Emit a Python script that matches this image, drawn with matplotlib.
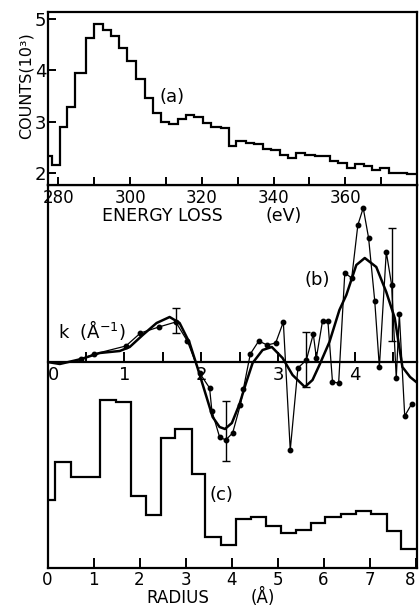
import matplotlib
matplotlib.use("Agg")
import matplotlib.pyplot as plt
import numpy as np

plt.rcParams["font.family"] = "DejaVu Sans"

# ---- (a) energy-loss histogram: bin edges (eV) and counts (10^3)
energy_edges = [277.0, 278.2, 280.4, 282.4, 284.6, 287.6, 289.9, 292.4, 294.6,
                296.9, 299.2, 301.6, 304.1, 306.5, 308.6, 310.9, 313.3, 315.6,
                317.9, 320.3, 322.6, 325.4, 327.5, 329.6, 332.4, 334.7, 337.1,
                339.4, 341.7, 344.1, 346.4, 348.7, 351.5, 355.7, 358.1, 360.4,
                362.7, 365.1, 367.4, 369.7, 372.1, 374.4, 377.2, 380.0]
counts = [2.33, 2.15, 2.89, 3.28, 3.94, 4.63, 4.90, 4.79, 4.67, 4.44, 4.19,
          3.83, 3.46, 3.17, 2.99, 2.95, 3.05, 3.13, 3.08, 2.97, 2.89, 2.88,
          2.53, 2.63, 2.59, 2.56, 2.46, 2.45, 2.35, 2.30, 2.38, 2.34, 2.32,
          2.24, 2.19, 2.09, 2.17, 2.13, 2.06, 2.09, 2.00, 2.00, 1.98]

# ---- (b) EXAFS chi(k): measured points, smooth fit, error bars
k_pts = [0.44, 0.61, 1.02, 1.21, 1.45, 1.67, 1.82, 1.98, 2.11, 2.14, 2.24,
         2.32, 2.41, 2.51, 2.55, 2.64, 2.75, 2.86, 2.97, 3.07, 3.16, 3.26,
         3.37, 3.46, 3.50, 3.58, 3.65, 3.71, 3.79, 3.87, 3.96, 4.04, 4.11,
         4.18, 4.26, 4.32, 4.41, 4.48, 4.54, 4.58, 4.65, 4.74]
chi_pts = [0.3, 0.8, 1.6, 2.9, 3.5, 4.0, 2.1, -1.1, -2.6, -4.9, -7.5,
           -7.8, -7.1, -4.3, -2.7, 0.8, 2.1, 1.7, 1.9, 4.0, -8.8, -0.6,
           0.2, 2.8, 0.4, 4.1, 4.1, -2.0, -2.1, 8.9, 8.4, 13.7, 15.4,
           12.4, 6.1, -0.5, 11.0, 7.7, -1.6, 4.8, -5.4, -4.2]
k_fit = [0.00, 0.16, 0.44, 0.68, 0.94, 1.07, 1.24, 1.42, 1.59, 1.72, 1.85,
         1.95, 2.07, 2.15, 2.24, 2.31, 2.40, 2.50, 2.58, 2.67, 2.80, 2.92,
         3.06, 3.19, 3.35, 3.45, 3.54, 3.67, 3.80, 3.89, 4.02, 4.13, 4.28,
         4.41, 4.52, 4.62, 4.72, 4.80]
chi_fit = [0.0, -0.2, 0.3, 0.9, 1.1, 1.5, 2.7, 3.9, 4.5, 3.9, 1.9,
           -0.5, -3.5, -5.5, -6.5, -6.7, -6.1, -4.2, -2.2, -0.1, 1.2, 1.5,
           0.4, -1.3, -2.5, -1.8, -0.3, 2.0, 5.2, 6.7, 9.7, 10.4, 9.5,
           7.0, 4.4, -0.5, -1.5, -2.0]
err_k = [1.67, 2.32, 3.37, 4.48]
err_lo = [2.9, -9.9, -2.5, 2.1]
err_hi = [5.4, -3.9, 3.0, 13.4]

# ---- (c) radial distribution histogram
r_edges = [0.0, 0.16, 0.50, 1.15, 1.49, 1.81, 2.13, 2.46, 2.78, 3.13, 3.42,
           3.76, 4.09, 4.42, 4.74, 5.07, 5.39, 5.72, 6.04, 6.38, 6.70, 7.03,
           7.37, 7.68, 8.05]
rdf = [6.8, 10.6, 9.1, 16.8, 16.6, 7.2, 5.3, 13.0, 13.9, 9.4, 3.1, 2.3,
       4.9, 5.1, 4.2, 3.5, 3.8, 4.5, 5.1, 5.4, 5.7, 5.4, 3.7, 1.9]

FS = 13
LW = 1.6

fig = plt.figure(figsize=(4.19, 6.07), dpi=100)
fig.patch.set_facecolor("white")

L = 47.5 / 419
W = 369.5 / 419
ax_c = fig.add_axes([L, 1 - 568 / 607, W, 383 / 607])
ax_b = fig.add_axes([L, 1 - 568 / 607, W, 383 / 607])
ax_a = fig.add_axes([L, 1 - 185 / 607, W, 173 / 607])
ax_c.patch.set_visible(False)
ax_b.patch.set_visible(False)

# ---------------- panel (a)
ax_a.stairs(counts, energy_edges, color="black", lw=LW, baseline=None)
ax_a.set_xlim(277, 380)
ax_a.set_ylim(1.764, 5.136)
ax_a.set_xticks([280, 300, 320, 340, 360])
ax_a.set_xticks([290, 310, 330, 350, 370], minor=True)
ax_a.set_yticks([2, 3, 4, 5])
ax_a.tick_params(axis="both", which="both", direction="in", length=6,
                 width=1.4, labelsize=FS)
ax_a.tick_params(axis="x", pad=3, labelsize=12)
ax_a.tick_params(axis="y", pad=1)
for s in ax_a.spines.values():
    s.set_linewidth(1.6)
ax_a.text(0.337, 0.509, "(a)", transform=ax_a.transAxes, fontsize=FS,
          ha="center", va="center")
ax_a.text(0.147, -0.18, "ENERGY LOSS", transform=ax_a.transAxes,
          fontsize=12.5, ha="left", va="center")
ax_a.text(0.589, -0.18, "(eV)", transform=ax_a.transAxes,
          fontsize=12.5, ha="left", va="center")
fig.text(26 / 419, 1 - 86 / 607, "COUNTS(10³)", rotation=90, fontsize=11.5,
         ha="center", va="center")

# ---------------- panel (c)
ax_c.stairs(rdf, r_edges, color="black", lw=LW, baseline=None)
ax_c.set_xlim(0, 8.03)
ax_c.set_ylim(0, 38.3)
ax_c.set_xticks(range(0, 9))
ax_c.set_yticks([])
ax_c.tick_params(axis="x", direction="in", length=7, width=1.4,
                 labelsize=12, pad=2)
ax_c.get_xticklabels()[-1].set_ha("right")
for s in ax_c.spines.values():
    s.set_linewidth(1.6)
ax_c.text(0.472, 0.191, "(c)", transform=ax_c.transAxes, fontsize=FS,
          ha="center", va="center")
ax_c.text(0.353, -0.079, "RADIUS", transform=ax_c.transAxes, fontsize=12,
          ha="center", va="center")
ax_c.text(0.583, -0.077, "(Å)", transform=ax_c.transAxes, fontsize=12,
          ha="center", va="center")

# ---------------- panel (b)
for side in ["top", "left", "right"]:
    ax_b.spines[side].set_visible(False)
ax_b.spines["bottom"].set_position(("data", 0))
ax_b.spines["bottom"].set_linewidth(1.6)
ax_b.set_xlim(0, 4.81)
ax_b.set_ylim(-20.6, 17.7)
ax_b.set_yticks([])
ax_b.set_xticks([0, 1, 2, 3, 4])
ax_b.set_xticks([0.5, 1.5, 2.5, 3.5, 4.5], minor=True)
ax_b.tick_params(axis="x", which="both", direction="in", length=7,
                 width=1.4, labelsize=FS, pad=3)
ax_b.get_xticklabels()[0].set_ha("left")

ax_b.plot(k_fit, chi_fit, color="black", lw=1.8, zorder=3)
ax_b.plot(k_pts, chi_pts, color="black", lw=0.9, marker="o", ms=3.2,
          zorder=4)
err_mid = [(lo + hi) / 2 for lo, hi in zip(err_lo, err_hi)]
err_half = [(hi - lo) / 2 for lo, hi in zip(err_lo, err_hi)]
ax_b.errorbar(err_k, err_mid, yerr=err_half, fmt="none", ecolor="black",
              elinewidth=1.0, capsize=3, capthick=1.0, zorder=4)
ax_b.text(0.729, 0.752, "(b)", transform=ax_b.transAxes, fontsize=FS,
          ha="center", va="center")
ax_b.text(0.028, 0.621, "k  (Å$^{-1}$)", transform=ax_b.transAxes,
          fontsize=FS, ha="left", va="center")

fig.savefig("out.png", dpi=100, facecolor="white")
